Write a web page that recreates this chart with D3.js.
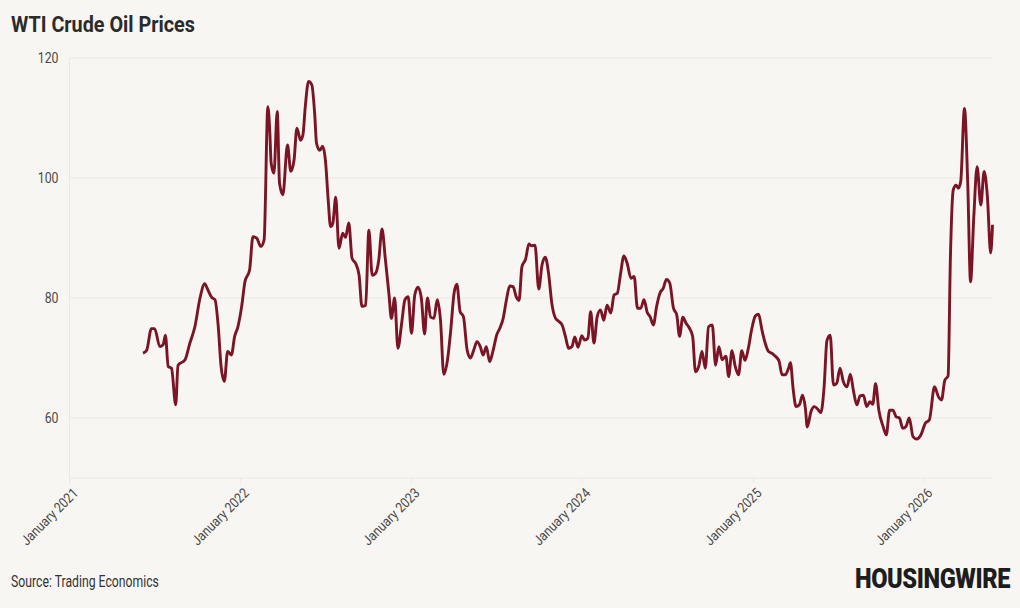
<!DOCTYPE html>
<html>
<head>
<meta charset="utf-8">
<script src="https://cdn.jsdelivr.net/npm/d3@7"></script>
<style>
  html, body { margin: 0; padding: 0; background: #f8f6f3; }
  svg text { font-family: Roboto, "Liberation Sans", sans-serif; }
</style>
</head>
<body>
<svg id="chart" width="1020" height="608"></svg>
<script>
//  WTI prices (USD / barrel)
const dates = [
  "2021-06-07","2021-06-15","2021-06-25","2021-07-02","2021-07-13","2021-07-20","2021-07-25","2021-07-31",
  "2021-08-07","2021-08-16","2021-08-21","2021-09-05","2021-09-15","2021-09-26","2021-10-07","2021-10-17",
  "2021-10-24","2021-11-01","2021-11-08","2021-11-15","2021-11-21","2021-11-28","2021-12-05","2021-12-13",
  "2021-12-20","2021-12-27",
  "2022-01-04","2022-01-11","2022-01-21","2022-01-28","2022-02-05","2022-02-14","2022-02-21","2022-03-01",
  "2022-03-05","2022-03-08","2022-03-14","2022-03-21","2022-03-26","2022-04-02","2022-04-12","2022-04-19",
  "2022-04-26","2022-05-02","2022-05-10","2022-05-15","2022-05-20","2022-05-27","2022-06-03","2022-06-09",
  "2022-06-13","2022-06-20","2022-06-26","2022-07-02","2022-07-08","2022-07-13","2022-07-18","2022-07-24",
  "2022-07-31","2022-08-08","2022-08-14","2022-08-21","2022-08-28","2022-09-05","2022-09-12","2022-09-18",
  "2022-09-26","2022-10-03","2022-10-10","2022-10-17","2022-10-24","2022-10-31","2022-11-07","2022-11-15",
  "2022-11-20","2022-11-27","2022-12-04","2022-12-12","2022-12-19","2022-12-26",
  "2023-01-02","2023-01-09","2023-01-16","2023-01-23","2023-01-30","2023-02-05","2023-02-12","2023-02-19",
  "2023-02-26","2023-03-05","2023-03-12","2023-03-20","2023-03-27","2023-04-03","2023-04-09","2023-04-16",
  "2023-04-23","2023-05-01","2023-05-08","2023-05-15","2023-05-22","2023-05-29","2023-06-04","2023-06-11",
  "2023-06-18","2023-06-25","2023-07-03","2023-07-10","2023-07-17","2023-07-24","2023-07-31","2023-08-07",
  "2023-08-14","2023-08-20","2023-08-26","2023-09-03","2023-09-10","2023-09-15","2023-09-23","2023-10-01",
  "2023-10-08","2023-10-15","2023-10-22","2023-10-29","2023-11-06","2023-11-13","2023-11-20","2023-11-27",
  "2023-12-04","2023-12-11","2023-12-17","2023-12-24",
  "2024-01-01","2024-01-07","2024-01-14","2024-01-20","2024-01-27","2024-02-03","2024-02-10","2024-02-17",
  "2024-02-24","2024-03-03","2024-03-10","2024-03-17","2024-03-24","2024-03-31","2024-04-07","2024-04-15",
  "2024-04-22","2024-04-29","2024-05-06","2024-05-13","2024-05-20","2024-05-26","2024-06-02","2024-06-09",
  "2024-06-16","2024-06-23","2024-06-30","2024-07-07","2024-07-15","2024-07-22","2024-07-28","2024-08-04",
  "2024-08-11","2024-08-18","2024-08-25","2024-08-31","2024-09-07","2024-09-14","2024-09-21","2024-09-28",
  "2024-10-06","2024-10-13","2024-10-20","2024-10-27","2024-11-04","2024-11-10","2024-11-17","2024-11-24",
  "2024-12-01","2024-12-08","2024-12-15","2024-12-22","2024-12-29",
  "2025-01-06","2025-01-13","2025-01-20","2025-01-27","2025-02-03","2025-02-12","2025-02-19","2025-02-26",
  "2025-03-04","2025-03-11","2025-03-18","2025-03-22","2025-03-28","2025-04-03","2025-04-10","2025-04-17",
  "2025-04-23","2025-04-27","2025-05-05","2025-05-12","2025-05-19","2025-05-26","2025-06-02","2025-06-08",
  "2025-06-15","2025-06-22","2025-06-29","2025-07-06","2025-07-13","2025-07-21","2025-07-28","2025-08-04",
  "2025-08-11","2025-08-18","2025-08-25","2025-09-01","2025-09-08","2025-09-14","2025-09-20","2025-09-27",
  "2025-10-06","2025-10-13","2025-10-20","2025-10-27","2025-11-03","2025-11-10","2025-11-17","2025-11-24",
  "2025-12-01","2025-12-09","2025-12-17","2025-12-26",
  "2026-01-04","2026-01-13","2026-01-24","2026-02-01","2026-02-08","2026-02-15","2026-02-22","2026-02-27",
  "2026-03-05","2026-03-11","2026-03-16","2026-03-21","2026-03-29","2026-04-05","2026-04-11","2026-04-18",
  "2026-04-25","2026-05-03","2026-05-10","2026-05-17","2026-05-24","2026-05-28"
];

const prices = [
  70.8, 71.3, 74.9, 74.9, 71.9, 72.2, 73.8, 68.6,
  68.3, 62.2, 68.8, 69.7, 72.4, 75.2, 80.0, 82.4,
  81.3, 80.1, 79.7, 75.2, 68.6, 66.1, 71.1, 70.5,
  73.6, 75.2,
  78.6, 82.7, 84.7, 90.2, 90.0, 88.6, 89.7, 111.9,
  108.0, 102.5, 100.8, 111.1, 99.1, 97.2, 105.5, 101.1,
  103.0, 108.3, 106.3, 107.2, 111.9, 116.1, 115.5, 110.8,
  105.8, 104.6, 105.3, 103.0, 96.3, 91.9, 92.5, 96.8,
  88.3, 90.8, 90.1, 92.5, 86.6, 85.7, 83.8, 78.6,
  78.8, 91.3, 83.8, 84.1, 86.3, 91.5, 86.6, 80.5,
  76.6, 80.0, 71.6, 75.8, 79.7, 80.2,
  74.1, 80.5, 81.8, 80.0, 74.0, 80.0, 76.8, 76.6,
  79.7, 76.3, 67.3, 69.7, 74.7, 80.8, 82.3, 77.7,
  76.9, 71.3, 70.0, 71.3, 72.7, 71.9, 70.5, 71.9,
  69.4, 71.1, 73.8, 75.0, 76.6, 79.7, 82.0, 81.9,
  80.2, 79.6, 85.2, 86.5, 89.0, 88.7, 88.8, 81.5,
  85.5, 86.8, 84.1, 79.1, 76.6, 76.1, 75.5, 73.6,
  71.6, 71.9, 73.5, 71.8,
  73.7, 73.0, 73.3, 77.7, 72.5, 76.9, 78.0, 76.3,
  78.8, 77.5, 80.5, 80.8, 84.1, 87.0, 85.8, 83.3,
  83.6, 78.3, 78.3, 79.7, 77.6, 76.9, 75.5, 78.6,
  80.8, 81.6, 83.1, 82.5, 78.3, 77.2, 73.6, 76.8,
  75.8, 75.0, 73.6, 67.7, 68.6, 71.1, 68.3, 75.2,
  75.5, 68.8, 71.9, 69.7, 70.3, 66.9, 71.2, 68.6,
  67.2, 71.2, 69.6, 71.6, 74.7,
  77.0, 77.3, 74.7, 72.5, 71.1, 70.7, 70.2, 69.4,
  67.2, 67.2, 68.3, 69.2, 64.7, 61.9, 62.2, 63.8,
  61.6, 58.5, 61.1, 61.9, 61.5, 60.9, 65.2, 72.9,
  73.8, 65.5, 65.8, 68.3, 66.1, 65.2, 67.3, 64.4,
  62.2, 63.7, 63.8, 61.9, 62.7, 62.3, 65.7, 61.3,
  58.6, 57.2, 61.3, 61.3, 60.2, 60.0, 58.3, 58.6,
  60.0, 56.9, 56.5, 57.2,
  59.1, 59.7, 65.2, 63.6, 63.0, 66.3, 67.0, 86.9,
  98.0, 98.8, 98.3, 99.4, 111.6, 99.1, 82.7, 93.6,
  101.9, 95.5, 101.1, 96.9, 87.5, 92.2
];

const yTicks = [60, 80, 100, 120];
const xDomain = ["2021-01-01", "2026-05-29"];

const parse = d3.timeParse("%Y-%m-%d");
const series = dates.map((d, i) => ({ date: parse(d), value: prices[i] }));

const svg = d3.select("#chart");
const W = 1020, H = 608;
const margin = { top: 58, right: 27, bottom: 130, left: 69.5 };
const condense = 0.82;      //  no Roboto Condensed installed, so squeeze Roboto

svg.append("rect").attr("width", W).attr("height", H).attr("fill", "#f8f6f3");

const x = d3.scaleTime()
    .domain(xDomain.map(parse))
    .range([margin.left, W - margin.right]);
const y = d3.scaleLinear()
    .domain([50, 120])
    .range([H - margin.bottom, margin.top]);

//  squeeze a text (placed at 0,0) so it is `width` px wide, anchored at (tx, ty)
function fitText(sel, tx, ty, width) {
    const w = sel.node().getComputedTextLength();
    sel.attr("transform", `translate(${tx},${ty}) scale(${width / w},1)`);
}

//  horizontal gridlines
svg.append("g")
    .selectAll("line")
    .data([50].concat(yTicks))
    .join("line")
    .attr("x1", margin.left).attr("x2", W - margin.right)
    .attr("y1", d => y(d)).attr("y2", d => y(d))
    .attr("stroke", "#ebe8e3").attr("stroke-width", 1);

//  left edge
svg.append("line")
    .attr("x1", margin.left).attr("x2", margin.left)
    .attr("y1", margin.top).attr("y2", y(50) + 5)
    .attr("stroke", "#ebe8e3");

//  y labels
svg.append("g")
    .selectAll("text")
    .data(yTicks)
    .join("text")
    .attr("transform", d => `translate(${margin.left - 11},${y(d)}) scale(${condense},1)`)
    .attr("dy", "0.35em")
    .attr("text-anchor", "end")
    .attr("fill", "#4a4a4a")
    .style("font-size", "15px")
    .text(d => d);

//  x axis
const xAxis = svg.append("g")
    .attr("transform", `translate(0,${y(50)})`)
    .call(d3.axisBottom(x)
        .ticks(d3.timeYear.every(1))
        .tickSize(5)
        .tickFormat(d3.timeFormat("January %Y")));
xAxis.select(".domain").remove();
xAxis.selectAll(".tick line").attr("stroke", "#ebe8e3");
xAxis.selectAll(".tick text")
    .attr("fill", "#4a4a4a")
    .style("font-size", "14px")
    .attr("text-anchor", "end")
    .attr("transform", `translate(9,16) rotate(-45) scale(0.87,1)`)
    .attr("dy", 0)
    .attr("y", 0);

//  price line
const line = d3.line()
    .x(d => x(d.date))
    .y(d => y(d.value))
    .curve(d3.curveMonotoneX);

svg.append("path")
    .datum(series)
    .attr("d", line)
    .attr("fill", "none")
    .attr("stroke", "#7b1526")
    .attr("stroke-width", 2.9)
    .attr("stroke-linejoin", "round");

//  title, source, logo
const title = svg.append("text")
    .attr("fill", "#2b2b2b")
    .style("font-size", "22px").style("font-weight", "bold")
    .text("WTI Crude Oil Prices");
fitText(title, 11, 32, 184);

const source = svg.append("text")
    .attr("fill", "#333")
    .style("font-size", "16px")
    .text("Source: Trading Economics");
fitText(source, 11, 587, 148);

const logo = svg.append("text")
    .attr("fill", "#1d1d1d")
    .style("font-size", "28px").style("font-weight", "900")
    .style("letter-spacing", "-0.5px")
    .text("HOUSINGWIRE");
fitText(logo, 855, 588, 155);
</script>
</body>
</html>
